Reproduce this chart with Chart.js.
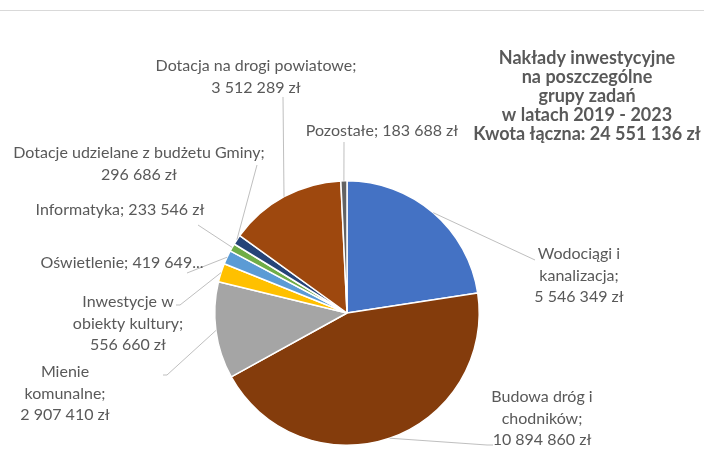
<!DOCTYPE html>
<html lang="pl">
<head>
<meta charset="utf-8">
<title>Nakłady inwestycyjne 2019 - 2023</title>
<script src="https://cdn.jsdelivr.net/npm/chart.js@4.4.1/dist/chart.umd.min.js"></script>
<style>
  html, body { margin: 0; padding: 0; background: #fff; }
  #wrap { position: relative; width: 704px; height: 473px; }
</style>
</head>
<body>
<div id="wrap"><canvas id="chart" width="704" height="473"></canvas></div>
<script>
// Categories (Excel wrapped names kept with line breaks)
var categories = [
	"Wodociągi i\nkanalizacja",
	"Budowa dróg i\nchodników",
	"Mienie\nkomunalne",
	"Inwestycje w\nobiekty kultury",
	"Oświetlenie",
	"Informatyka",
	"Dotacje udzielane z budżetu Gminy",
	"Dotacja na drogi powiatowe",
	"Pozostałe"
];
var values = [ 5546349, 10894860, 2907410, 556660, 419649, 233546, 296686, 3512289, 183688 ];
var sliceColors = [ "#4472C4", "#843C0C", "#A5A5A5", "#FFC000", "#5B9BD5", "#70AD47", "#264478", "#9E480E", "#636363" ];
var titleLines = [
	"Nakłady inwestycyjne",
	"na poszczególne",
	"grupy zadań",
	"w latach 2019 - 2023",
	"Kwota łączna: 24 551 136 zł"
];

// Label placement (x = text centre, y = first line centre), leader line points
var labelLayout = [
	{ x: 579, y: 254, inline: false, line: [ [ 535, 260 ] ] },
	{ x: 542, y: 397, inline: false, line: [ [ 487, 445 ], [ 493, 445 ] ] },
	{ x: 65, y: 372, inline: false, line: [ [ 167, 375 ], [ 163, 375 ] ] },
	{ x: 128, y: 302, inline: false, line: [ [ 180, 305 ], [ 176, 305 ] ] },
	{ x: 122, y: 263, inline: true, cut: true, line: [ [ 187, 273 ] ] },
	{ x: 120, y: 210, inline: true, line: [ [ 198, 225 ] ] },
	{ x: 139, y: 153, inline: false, line: [ [ 257, 165 ] ] },
	{ x: 256, y: 66, inline: false, line: [ [ 283, 97 ] ] },
	{ x: 382, y: 131, inline: true, line: [ [ 344, 142 ] ] }
];

var textColor = "#595959",
	labelFont = "16px Lato",
	titleFont = "bold 18px Lato",
	lineH = 21.5;

var fmtNum = function( v ) {
	return String( v ).replace( /\B(?=(\d{3})+(?!\d))/g, " " );
};

var labelLines = function( i ) {
	var lay = labelLayout[ i ],
		name = categories[ i ].split( "\n" ),
		val = lay.cut ? fmtNum( values[ i ] ) + "..." : fmtNum( values[ i ] ) + " zł";
	if ( lay.inline ) {
		name[ name.length - 1 ] += "; " + val;
		return name;
	}
	name[ name.length - 1 ] += ";";
	name.push( val );
	return name;
};

var decorPlugin = {
	id: "decor",
	beforeDraw: function( chart ) {
		var ctx = chart.ctx;
		ctx.save();
		ctx.fillStyle = "#fff";
		ctx.fillRect( 0, 0, chart.width, chart.height );
		ctx.strokeStyle = "#D9D9D9";
		ctx.lineWidth = 1;
		ctx.beginPath();
		ctx.moveTo( 0, 10.5 );
		ctx.lineTo( chart.width, 10.5 );
		ctx.stroke();
		ctx.restore();
	},
	afterDatasetsDraw: function( chart ) {
		var ctx = chart.ctx,
			arcs = chart.getDatasetMeta( 0 ).data;

		ctx.save();

		// leader lines from the middle of each slice edge
		ctx.strokeStyle = "#BFBFBF";
		ctx.lineWidth = 1;
		arcs.forEach( function( arc, i ) {
			var mid = ( arc.startAngle + arc.endAngle ) / 2,
				pts = labelLayout[ i ].line;
			ctx.beginPath();
			ctx.moveTo( arc.x + Math.cos( mid ) * arc.outerRadius, arc.y + Math.sin( mid ) * arc.outerRadius );
			pts.forEach( function( p ) {
				ctx.lineTo( p[ 0 ], p[ 1 ] );
			} );
			ctx.stroke();
		} );

		// data labels
		ctx.fillStyle = textColor;
		ctx.font = labelFont;
		ctx.textAlign = "center";
		ctx.textBaseline = "middle";
		arcs.forEach( function( arc, i ) {
			var lay = labelLayout[ i ];
			labelLines( i ).forEach( function( t, k ) {
				ctx.fillText( t, lay.x, lay.y + k * lineH );
			} );
		} );

		// title
		ctx.font = titleFont;
		titleLines.forEach( function( t, k ) {
			ctx.fillText( t, 587, 58 + k * 19 );
		} );

		ctx.restore();
	}
};

new Chart( document.getElementById( "chart" ), {
	type: "pie",
	data: {
		labels: categories,
		datasets: [ {
			data: values,
			backgroundColor: sliceColors,
			borderColor: "#fff",
			borderWidth: 1.5
		} ]
	},
	options: {
		responsive: false,
		animation: false,
		events: [],
		layout: {
			padding: { top: 180, bottom: 27, left: 214, right: 224 }
		},
		plugins: {
			legend: { display: false },
			tooltip: { enabled: false },
			title: { display: false }
		}
	},
	plugins: [ decorPlugin ]
} );
</script>
</body>
</html>
